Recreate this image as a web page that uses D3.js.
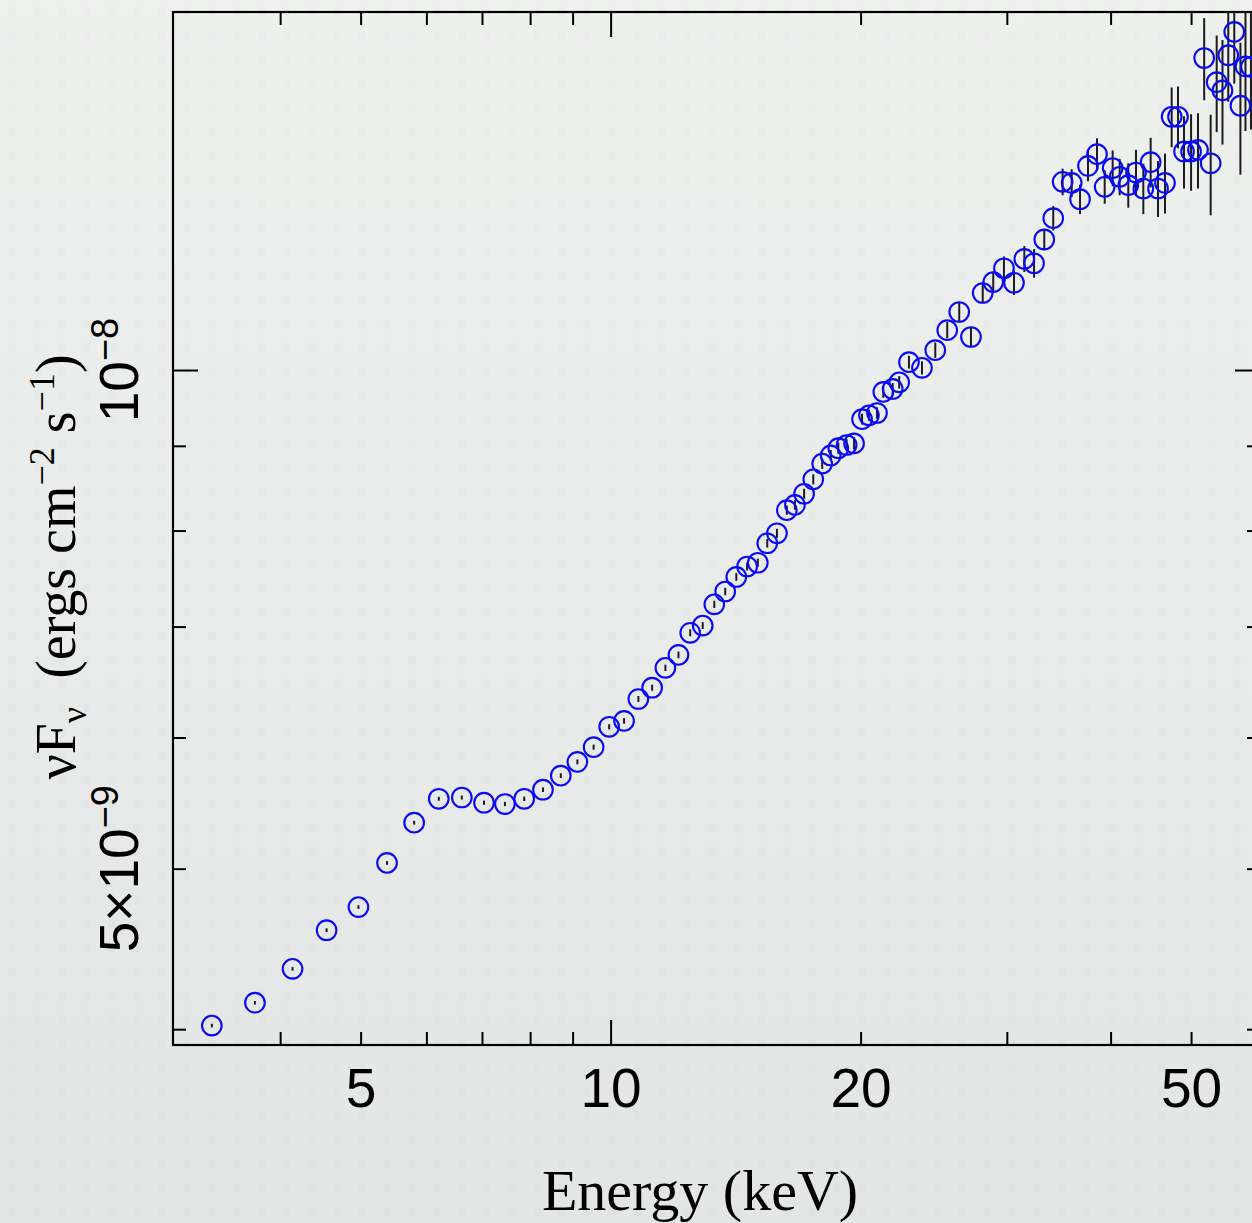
<!DOCTYPE html>
<html>
<head>
<meta charset="utf-8">
<script src="https://cdn.jsdelivr.net/npm/d3@7"></script>
<style>
  html, body { margin: 0; padding: 0; background: #eceeec; }
  svg { display: block; }
</style>
</head>
<body>
<svg id="chart" width="1252" height="1223"></svg>
<script>
// Photon energy of each spectral bin (keV)
const energy = [3.31, 3.73, 4.14, 4.55, 4.97, 5.38, 5.80, 6.21, 6.62, 7.04,
  7.46, 7.87, 8.29, 8.71, 9.12, 9.54, 9.96, 10.38, 10.80, 11.22,
  11.64, 12.07, 12.47, 12.91, 13.33, 13.74, 14.17, 14.60, 15.04, 15.44,
  15.86, 16.30, 16.67, 17.10, 17.54, 17.98, 18.41, 18.80, 19.24, 19.64,
  20.08, 20.47, 20.93, 21.30, 21.86, 22.26, 22.87, 23.71, 24.60, 25.43,
  26.29, 27.16, 28.06, 28.89, 29.76, 30.60, 31.49, 32.35, 33.28, 34.12,
  35.02, 35.91, 36.75, 37.57, 38.52, 39.35, 40.23, 41.02, 42.01, 42.92,
  43.80, 44.70, 45.62, 46.51, 47.38, 48.22, 49.03, 50.00, 50.97, 51.85,
  52.79, 53.68, 54.55, 55.43, 56.36, 57.33, 58.14, 59.03];

// nu F_nu in units of 1e-9 ergs cm^-2 s^-1
const fluxNano = [4.02, 4.15, 4.35, 4.59, 4.74, 5.04, 5.33, 5.51, 5.52, 5.48,
  5.47, 5.51, 5.58, 5.69, 5.80, 5.92, 6.09, 6.14, 6.33, 6.43,
  6.61, 6.73, 6.94, 7.01, 7.22, 7.35, 7.50, 7.61, 7.65, 7.86,
  7.97, 8.23, 8.29, 8.42, 8.59, 8.78, 8.88, 8.97, 9.01, 9.03,
  9.34, 9.39, 9.42, 9.70, 9.74, 9.83, 10.11, 10.03, 10.28, 10.57,
  10.84, 10.47, 11.13, 11.30, 11.52, 11.29, 11.67, 11.60, 11.99, 12.35,
  12.99, 12.97, 12.68, 13.28, 13.50, 12.90, 13.24, 13.08, 12.93, 13.16,
  12.87, 13.35, 12.87, 12.97, 14.22, 14.22, 13.55, 13.55, 13.58, 15.43,
  13.33, 14.92, 14.75, 15.49, 16.00, 14.44, 15.25, 15.24];

// 1-sigma uncertainty on nu F_nu, same units
const fluxErrNano = [0.010, 0.010, 0.011, 0.012, 0.012, 0.013, 0.014, 0.015, 0.015, 0.016,
  0.016, 0.017, 0.018, 0.019, 0.020, 0.021, 0.022, 0.024, 0.026, 0.027,
  0.029, 0.031, 0.033, 0.034, 0.036, 0.038, 0.040, 0.042, 0.044, 0.047,
  0.050, 0.053, 0.056, 0.058, 0.061, 0.064, 0.067, 0.070, 0.073, 0.076,
  0.070, 0.072, 0.075, 0.078, 0.080, 0.085, 0.090, 0.092, 0.11, 0.12,
  0.15, 0.14, 0.155, 0.165, 0.19, 0.19, 0.21, 0.23, 0.18, 0.21,
  0.24, 0.25, 0.26, 0.28, 0.30, 0.30, 0.33, 0.33, 0.40, 0.42,
  0.45, 0.46, 0.50, 0.54, 0.59, 0.61, 0.68, 0.72, 0.71, 0.88,
  0.93, 1.00, 1.07, 0.97, 1.11, 1.32, 1.31, 1.27];

// Axis ticks
const xMinorTicks = [4, 5, 6, 7, 8, 9, 20, 30, 40, 50, 60];
const xMajorTicks = [10];
const xLabelTicks = [5, 10, 20, 50];
const yMinorTicks = [4e-9, 5e-9, 6e-9, 7e-9, 8e-9, 9e-9];
const yMajorTicks = [1e-8];
const yLabels = [
  { value: 5e-9, mantissa: "5\u00d710", exponent: "\u22129" },
  { value: 1e-8, mantissa: "10", exponent: "\u22128" }
];

const data = energy.map((e, i) => ({
  e: e,
  f: fluxNano[i] * 1e-9,
  err: fluxErrNano[i] * 1e-9
}));

const W = 1252, H = 1223;
const plot = { left: 173, right: 1260, top: 12, bottom: 1045 };

const svg = d3.select("#chart");
const defs = svg.append("defs");

// Soft paper-grey backdrop
const grad = defs.append("linearGradient").attr("id", "bg")
  .attr("x1", 0).attr("y1", 0).attr("x2", 0).attr("y2", 1);
grad.append("stop").attr("offset", "0%").attr("stop-color", "#eff1ef");
grad.append("stop").attr("offset", "100%").attr("stop-color", "#e4e6e6");
svg.append("rect").attr("width", W).attr("height", H).attr("fill", "url(#bg)");

// Faint dotted texture over the backdrop
const pat = defs.append("pattern").attr("id", "grain")
  .attr("patternUnits", "userSpaceOnUse").attr("width", 25).attr("height", 24);
pat.append("ellipse").attr("cx", 12).attr("cy", 12).attr("rx", 4).attr("ry", 5)
  .attr("fill", "#7c8080").attr("opacity", 0.035);
svg.append("rect").attr("width", W).attr("height", H).attr("fill", "url(#grain)");

defs.append("clipPath").attr("id", "plotClip")
  .append("rect")
  .attr("x", plot.left).attr("y", plot.top)
  .attr("width", plot.right - plot.left).attr("height", plot.bottom - plot.top);

const x = d3.scaleLog().domain([2.972, 60.53]).range([plot.left, plot.right]);
const y = d3.scaleLog().domain([3.913e-9, 1.6449e-8]).range([plot.bottom, plot.top]);

const minorLen = 13, majorLen = 25;

function styleAxis(g) {
  g.select(".domain").remove();
  g.selectAll(".tick line").attr("stroke", "#000").attr("stroke-width", 2);
  g.selectAll(".tick text").remove();
}

// Inward ticks on all four sides
[[xMinorTicks, minorLen], [xMajorTicks, majorLen]].forEach(([vals, len]) => {
  svg.append("g").attr("transform", `translate(0,${plot.bottom})`)
    .call(d3.axisBottom(x).tickValues(vals).tickSize(-len)).call(styleAxis);
  svg.append("g").attr("transform", `translate(0,${plot.top})`)
    .call(d3.axisTop(x).tickValues(vals).tickSize(-len)).call(styleAxis);
});
[[yMinorTicks, minorLen], [yMajorTicks, majorLen]].forEach(([vals, len]) => {
  svg.append("g").attr("transform", `translate(${plot.left},0)`)
    .call(d3.axisLeft(y).tickValues(vals).tickSize(-len)).call(styleAxis);
  svg.append("g").attr("transform", `translate(${plot.right},0)`)
    .call(d3.axisRight(y).tickValues(vals).tickSize(-len)).call(styleAxis);
});

// Frame
svg.append("rect")
  .attr("x", plot.left).attr("y", plot.top)
  .attr("width", plot.right - plot.left).attr("height", plot.bottom - plot.top)
  .attr("fill", "none").attr("stroke", "#000").attr("stroke-width", 2.2);

// X tick labels
const tickFont = "'Liberation Sans Narrow', 'Arial Narrow', 'Liberation Sans', sans-serif";
const xLab = svg.append("g").attr("transform", `translate(0,${plot.bottom})`)
  .call(d3.axisBottom(x).tickValues(xLabelTicks).tickSize(0).tickPadding(23)
    .tickFormat(d3.format("d")));
xLab.select(".domain").remove();
xLab.selectAll(".tick text")
  .attr("font-family", tickFont).attr("font-size", 55).attr("fill", "#000");

// Y tick labels, rotated, with superscript exponents
const yLab = svg.append("g");
yLabels.forEach(l => {
  const t = yLab.append("text")
    .attr("transform", `translate(138,${y(l.value)}) rotate(-90)`)
    .attr("text-anchor", "middle")
    .attr("font-family", tickFont).attr("font-size", 55).attr("fill", "#000");
  t.append("tspan").text(l.mantissa);
  t.append("tspan").attr("font-size", 38).attr("dy", -20).text(l.exponent);
});

// Axis titles
const serif = "'Liberation Serif', 'Times New Roman', serif";
svg.append("text")
  .attr("x", 700).attr("y", 1210)
  .attr("text-anchor", "middle")
  .attr("font-family", serif).attr("font-size", 58).attr("fill", "#000")
  .text("Energy (keV)");

const yt = svg.append("text")
  .attr("transform", "translate(75,567) rotate(-90)")
  .attr("text-anchor", "middle")
  .attr("font-family", serif).attr("font-size", 56).attr("fill", "#000");
yt.append("tspan").text("\u03bdF");
yt.append("tspan").attr("font-size", 36).attr("dy", 11).text("\u03bd");
yt.append("tspan").attr("dy", -11).text("\u2002(ergs cm");
yt.append("tspan").attr("font-size", 36).attr("dy", -21).text("\u22122");
yt.append("tspan").attr("dy", 21).text(" s");
yt.append("tspan").attr("font-size", 36).attr("dy", -21).text("\u22121");
yt.append("tspan").attr("dy", 21).text(")");

// Data: error bars and open circles
const marks = svg.append("g").attr("clip-path", "url(#plotClip)");
marks.selectAll("line.err").data(data).join("line")
  .attr("class", "err")
  .attr("x1", d => x(d.e)).attr("x2", d => x(d.e))
  .attr("y1", d => y(d.f - d.err)).attr("y2", d => y(d.f + d.err))
  .attr("stroke", "#1c1c1c").attr("stroke-width", 2);
marks.selectAll("circle.pt").data(data).join("circle")
  .attr("class", "pt")
  .attr("cx", d => x(d.e)).attr("cy", d => y(d.f))
  .attr("r", 9.8)
  .attr("fill", "none").attr("stroke", "#0a0af5").attr("stroke-width", 2.1);
</script>
</body>
</html>
